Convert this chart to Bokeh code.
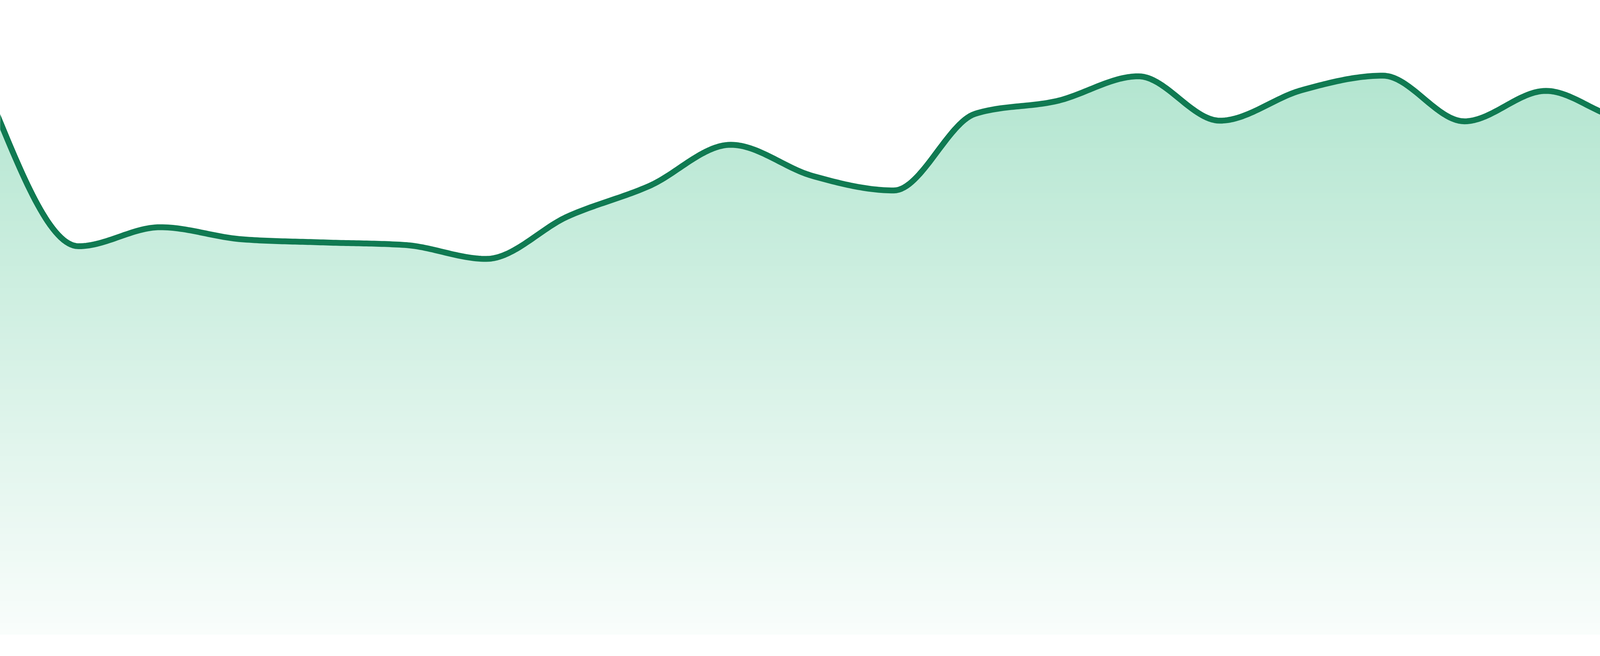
import numpy as np
from bokeh.plotting import figure
from bokeh.models import Range1d
from bokeh.embed import file_html
from bokeh.resources import INLINE

# ---- data ----
index = list(range(24))
values = [82.0, 61.2, 64.2, 62.3, 61.8, 61.4, 59.2, 65.9, 70.7, 77.2, 72.3, 70.0,
          82.1, 84.1, 88.0, 81.0, 85.8, 88.1, 80.9, 85.7, 81.3, 81.7, 80.3, 72.5]

# ---- style ----
LINE_COLOR = "#107a52"
BASE_RGB = (50, 186, 128)
ALPHA_TOP = 0.37
ALPHA_BOTTOM = 0.03
W, H = 4784, 1664
PAGE_MARGIN = 8
BOTTOM_GAP_PX = 40  # white strip below the area in the original


def _sign(v):
    return -1.0 if v < 0 else 1.0


def monotone_curve(xs, ys, per_seg=32):
    """Render helper: monotone-X cubic path through the data points (like d3 curveMonotoneX)."""
    x = np.asarray(xs, float)
    y = np.asarray(ys, float)
    n = len(x)
    h = np.diff(x)
    s = np.diff(y) / h
    t = np.zeros(n)
    for i in range(1, n - 1):
        s0, s1 = s[i - 1], s[i]
        p = (s0 * h[i] + s1 * h[i - 1]) / (h[i - 1] + h[i])
        t[i] = (_sign(s0) + _sign(s1)) * min(abs(s0), abs(s1), 0.5 * abs(p))
    t[0] = (3 * s[0] - t[1]) / 2
    t[-1] = (3 * s[-1] - t[-2]) / 2
    out_x, out_y = [], []
    for i in range(n - 1):
        u = np.linspace(0, 1, per_seg, endpoint=(i == n - 2))
        h00 = 2 * u**3 - 3 * u**2 + 1
        h10 = u**3 - 2 * u**2 + u
        h01 = -2 * u**3 + 3 * u**2
        h11 = u**3 - u**2
        out_x.append(x[i] + u * h[i])
        out_y.append(h00 * y[i] + h10 * h[i] * t[i] + h01 * y[i + 1] + h11 * h[i] * t[i + 1])
    return np.concatenate(out_x), np.concatenate(out_y)


def tint(alpha):
    r, g, b = (int(round(255 - alpha * (255 - c))) for c in BASE_RGB)
    return "#%02x%02x%02x" % (r, g, b)


cx, cy = monotone_curve(index, values)

# the original chart spans the full window width; the page margin hides its first/last 8px
span = len(index) - 1
px_per_step = (W + 2 * PAGE_MARGIN) / span
x_start = PAGE_MARGIN / px_per_step
x_end = span - PAGE_MARGIN / px_per_step

# y: value 100 at the top of the frame, value 0 sits BOTTOM_GAP_PX above the frame bottom
px_per_unit = (H - BOTTOM_GAP_PX) / 100.0
y_start = -BOTTOM_GAP_PX / px_per_unit

p = figure(width=W, height=H, output_backend="svg", toolbar_location=None,
           x_range=Range1d(x_start, x_end), y_range=Range1d(y_start, 100),
           min_border=0)
p.axis.visible = False
p.grid.visible = False
p.outline_line_color = None
p.background_fill_color = "white"
p.border_fill_color = "white"

# vertical gradient fill under the curve (stacked, top-down, no seams)
vmax = float(cy.max())
N = 100
tops = np.linspace(vmax, 0, N + 1)[:-1]
step = vmax / N
for hi in tops:
    frac = max(hi - step / 2, 0) / vmax
    a = ALPHA_BOTTOM + (ALPHA_TOP - ALPHA_BOTTOM) * frac
    p.varea(x=cx, y1=np.zeros_like(cy), y2=np.minimum(cy, hi), fill_color=tint(a), fill_alpha=1.0)

p.line(cx, cy, line_color=LINE_COLOR, line_width=15, line_join="round", line_cap="round")

open("out.html", "w").write(file_html(p, INLINE))
